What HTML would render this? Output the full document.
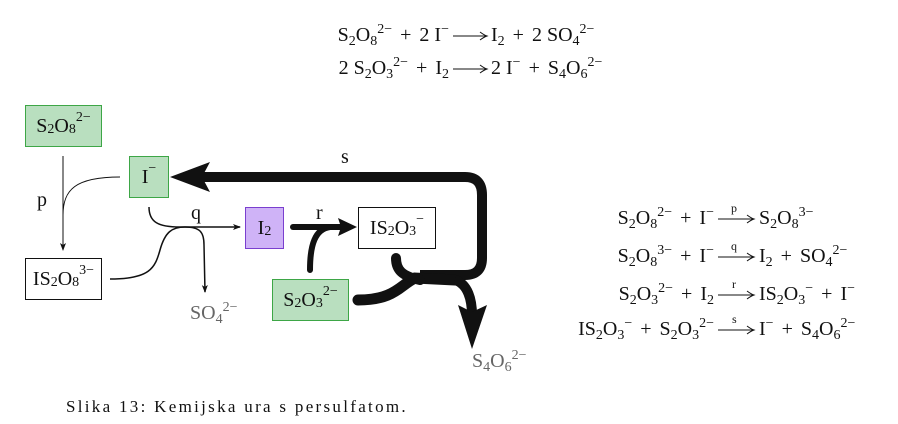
<!DOCTYPE html>
<html><head><meta charset="utf-8"><style>
body{margin:0;width:898px;height:424px;background:#fff;position:relative;overflow:hidden;font-family:"Liberation Serif","DejaVu Serif",serif;font-size:20px;color:#111}
.a{position:absolute;white-space:nowrap;line-height:22px}
.s{font-size:14px;position:relative;top:4px}
.u{font-size:14px;position:relative;top:-8px}
.p{margin:0 8px}
.r{text-align:right}
.box{position:absolute;box-sizing:border-box;display:flex;align-items:center;justify-content:center;white-space:nowrap}
.g{background:#b9dfbf;border:1.5px solid #3da646}
.w{background:#fff;border:1.5px solid #111}
.v{background:#cfb3f7;border:1.5px solid #7a3fcf}
.gr{color:#666}
</style></head><body>
<div class="a r" style="right:449px;top:24px">S<span class="s">2</span>O<span class="s">8</span><span class="u">2−</span><span class="p">+</span>2 I<span class="u">−</span></div>
<div class="a" style="left:491px;top:24px">I<span class="s">2</span><span class="p">+</span>2 SO<span class="s">4</span><span class="u">2−</span></div>
<div class="a r" style="right:449px;top:57px">2 S<span class="s">2</span>O<span class="s">3</span><span class="u">2−</span><span class="p">+</span>I<span class="s">2</span></div>
<div class="a" style="left:491px;top:57px">2 I<span class="u">−</span><span class="p">+</span>S<span class="s">4</span>O<span class="s">6</span><span class="u">2−</span></div>

<div class="a r" style="right:184px;top:207px">S<span class="s">2</span>O<span class="s">8</span><span class="u">2−</span><span class="p">+</span>I<span class="u">−</span></div>
<div class="a" style="left:759px;top:207px">S<span class="s">2</span>O<span class="s">8</span><span class="u">3−</span></div>
<div class="a r" style="right:184px;top:245px">S<span class="s">2</span>O<span class="s">8</span><span class="u">3−</span><span class="p">+</span>I<span class="u">−</span></div>
<div class="a" style="left:759px;top:245px">I<span class="s">2</span><span class="p">+</span>SO<span class="s">4</span><span class="u">2−</span></div>
<div class="a r" style="right:184px;top:283px">S<span class="s">2</span>O<span class="s">3</span><span class="u">2−</span><span class="p">+</span>I<span class="s">2</span></div>
<div class="a" style="left:759px;top:283px">IS<span class="s">2</span>O<span class="s">3</span><span class="u">−</span><span class="p">+</span>I<span class="u">−</span></div>
<div class="a r" style="right:184px;top:318px">IS<span class="s">2</span>O<span class="s">3</span><span class="u">−</span><span class="p">+</span>S<span class="s">2</span>O<span class="s">3</span><span class="u">2−</span></div>
<div class="a" style="left:759px;top:318px">I<span class="u">−</span><span class="p">+</span>S<span class="s">4</span>O<span class="s">6</span><span class="u">2−</span></div>
<div class="a" style="left:731px;top:197px;font-size:12px">p</div>
<div class="a" style="left:731px;top:235px;font-size:12px">q</div>
<div class="a" style="left:732px;top:273px;font-size:12px">r</div>
<div class="a" style="left:732px;top:308px;font-size:12px">s</div>

<svg style="position:absolute;left:0;top:0" width="898" height="424">
<defs>
<marker id="m" markerWidth="8" markerHeight="8" refX="7" refY="4" orient="auto" markerUnits="userSpaceOnUse"><path d="M0,1 L8,4 L0,7 L2,4z" fill="#111"/></marker>
</defs>
<g fill="none" stroke="#111">
<path d="M453,36 L486,36 M480,32 Q484,35 487,36 Q484,37 480,40" stroke-width="1"/>
<path d="M453,69 L486,69 M480,65 Q484,68 487,69 Q484,70 480,73" stroke-width="1"/>
<g stroke-width="1">
<path d="M718,219 L753,219 M747,215 Q751,218 754,219 Q751,220 747,223"/>
<path d="M718,257 L753,257 M747,253 Q751,256 754,257 Q751,258 747,261"/>
<path d="M718,295 L753,295 M747,291 Q751,294 754,295 Q751,296 747,299"/>
<path d="M718,330 L753,330 M747,326 Q751,329 754,330 Q751,331 747,334"/>
</g>
<path d="M63,156 L63,250" stroke-width="1" marker-end="url(#m)"/>
<path d="M120,177 C75,177 63,190 63,215" stroke-width="1"/>
<path d="M149,207 C149,222 158,227 180,227 L240,227" stroke-width="1.5" marker-end="url(#m)"/>
<path d="M110,279 C150,279 155,268 160,250 C165,232 172,227 185,227 C200,227 204,232 204,245 L205,292" stroke-width="1.5" marker-end="url(#m)"/>
<path d="M293,227 L345,227" stroke-width="6" stroke-linecap="round"/>
<path d="M310,270 C310,245 315,229 330,227" stroke-width="6" stroke-linecap="round"/>
<path d="M200,177 L465,177 Q482,177 482,195 L482,258 Q482,275 465,275 L420,275" stroke-width="10"/>
<path d="M358,300 C395,300 400,285 415,278 L455,280" stroke-width="11" stroke-linecap="round"/>
<path d="M396,258 C396,270 402,276 420,280" stroke-width="10" stroke-linecap="round"/>
<path d="M455,280 C468,284 472,300 472,315" stroke-width="10"/>
</g>
<path d="M357,227 L338,218 L341,227 L338,236z" fill="#111"/>
<path d="M170,177 L210,162 L202,177 L210,192z" fill="#111"/>
<path d="M472,349 L458,305 L472,312 L487,305z" fill="#111"/>
</svg>

<div class="box g" style="left:25px;top:105px;width:77px;height:42px">S<span class="s">2</span>O<span class="s">8</span><span class="u">2−</span></div>
<div class="box g" style="left:129px;top:156px;width:40px;height:42px">I<span class="u">−</span></div>
<div class="box w" style="left:25px;top:258px;width:77px;height:42px">IS<span class="s">2</span>O<span class="s">8</span><span class="u">3−</span></div>
<div class="box v" style="left:245px;top:207px;width:39px;height:42px">I<span class="s">2</span></div>
<div class="box w" style="left:358px;top:207px;width:78px;height:42px">IS<span class="s">2</span>O<span class="s">3</span><span class="u">−</span></div>
<div class="box g" style="left:272px;top:279px;width:77px;height:42px">S<span class="s">2</span>O<span class="s">3</span><span class="u">2−</span></div>

<div class="a" style="left:37px;top:189px">p</div>
<div class="a" style="left:191px;top:202px">q</div>
<div class="a" style="left:316px;top:202px">r</div>
<div class="a" style="left:341px;top:146px">s</div>
<div class="a gr" style="left:190px;top:302px">SO<span class="s">4</span><span class="u">2−</span></div>
<div class="a gr" style="left:472px;top:350px">S<span class="s">4</span>O<span class="s">6</span><span class="u">2−</span></div>

<div class="a" style="left:66px;top:396px;font-size:17px;letter-spacing:2.3px">Slika 13: Kemijska ura s persulfatom.</div>
</body></html>
